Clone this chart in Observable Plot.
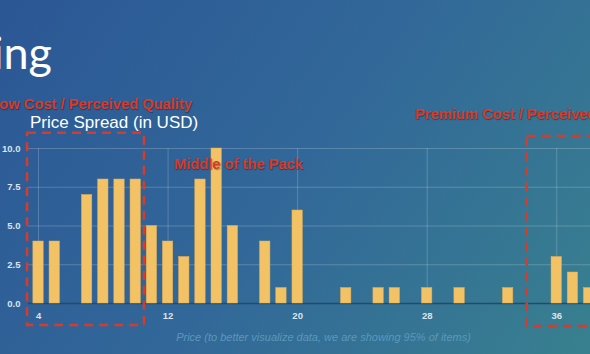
<!DOCTYPE html>
<html>
<head>
<meta charset="utf-8">
<script src="https://cdn.jsdelivr.net/npm/d3@7"></script>
<script src="https://cdn.jsdelivr.net/npm/@observablehq/plot@0.6"></script>
<style>
  html, body { margin: 0; padding: 0; }
  body { width: 590px; height: 354px; overflow: hidden; position: relative;
    background: linear-gradient(125deg, #2b5795 0%, #326899 50%, #38808f 100%); }
  #chart { position: absolute; left: 0; top: 0; width: 640px; height: 354px; }
  #chart svg { max-width: none !important; }
  .t { position: absolute; white-space: nowrap; line-height: 1; }
  .slide { font-family: Lato, "Open Sans", sans-serif; font-size: 45px; color: #fff; right: 538px; top: 30px; text-align: right; }
  .title { font-family: "Liberation Sans", Arial, sans-serif; font-size: 17px; color: #fff; left: 30px; top: 114px; }
  .red { font-family: "Liberation Sans", Arial, sans-serif; font-weight: bold; font-size: 14.7px; color: #d43c2c;
         text-shadow: 1px 1px 1px rgba(0,0,0,0.35); }
  .cap { font-family: "Liberation Sans", Arial, sans-serif; font-style: italic; font-size: 11px; color: #5a98bb; left: 0; width: 647px; text-align: center; top: 332px; }
</style>
</head>
<body>
<div id="chart"></div>
<div class="t slide">Pricing</div>
<div class="t red" style="right:398px; top:97px;">Low Cost / Perceived Quality</div>
<div class="t title">Price Spread (in USD)</div>
<div class="t red" style="left:174px; top:157px;">Middle of the Pack</div>
<div class="t red" style="left:415px; top:107px;">Premium Cost / Perceived Quality</div>
<div class="t cap">Price (to better visualize data, we are showing 95% of items)</div>
<script>
// Histogram data
const prices = [4, 5, 7, 8, 9, 10, 11, 12, 13, 14, 15, 16, 18, 19, 20, 23, 25, 26, 28, 30, 33, 36, 37, 38];
const counts = [4, 4, 7, 8, 8, 8, 5, 4, 3, 8, 10, 5, 4, 1, 6, 1, 1, 1, 1, 1, 1, 3, 2, 1];
const xTicks = [4, 12, 20, 28, 36];
const yTicks = [0, 2.5, 5, 7.5, 10];
// Annotation boxes (in price / count units)
const boxX1 = [3.32, 34.18];
const boxX2 = [10.54, 45];
const boxY1 = [-1.42, -1.48];
const boxY2 = [10.99, 10.77];

const data = prices.map((p, i) => ({price: p, count: counts[i]}));
const boxes = boxX1.map((x1, i) => ({x1, x2: boxX2[i], y1: boxY1[i], y2: boxY2[i]}));

const chart = Plot.plot({
  width: 640,
  height: 354,
  marginLeft: 28,
  marginRight: 19,
  marginTop: 148,
  marginBottom: 51,
  x: {domain: [3.38, 40]},
  y: {domain: [0, 10]},
  style: {background: "transparent", color: "#dbe4ef", fontFamily: "'Liberation Sans', Arial, sans-serif", fontSize: "9.5px", fontWeight: "bold", overflow: "visible", maxWidth: "none"},
  marks: [
    Plot.gridY(yTicks, {stroke: "#ffffff", strokeOpacity: 0.2, strokeWidth: 1}),
    Plot.gridX(xTicks, {stroke: "#ffffff", strokeOpacity: 0.2, strokeWidth: 1}),
    Plot.ruleY([0], {stroke: "#24496a", strokeWidth: 1.5}),
    Plot.rectY(data, {x1: d => d.price - 0.32, x2: d => d.price + 0.32, y: "count", fill: "#f3c264", stroke: "#e2ad55", strokeWidth: 0.5}),
    Plot.axisY(yTicks, {tickFormat: d => d.toFixed(1), tickSize: 0, tickPadding: 8, label: null}),
    Plot.axisX(xTicks, {tickSize: 0, tickPadding: 9, label: null}),
    Plot.rect(boxes, {x1: "x1", x2: "x2", y1: "y1", y2: "y2", fill: "none", stroke: "#d43c2c", strokeWidth: 2.5, strokeDasharray: "9,6"})
  ]
});
document.getElementById("chart").appendChild(chart);
</script>
</body>
</html>
